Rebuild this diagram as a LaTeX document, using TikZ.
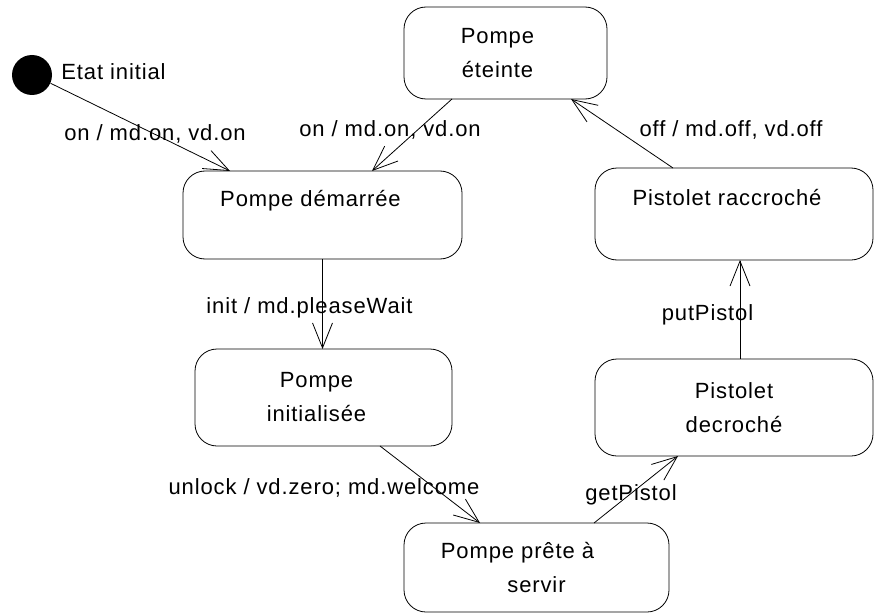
\documentclass[tikz,border=0pt]{standalone}
\usepackage{fontspec}
\setmainfont{Liberation Sans}[LetterSpace=4]
\usepackage{tikz}
\usetikzlibrary{arrows.meta}

\begin{document}
\begin{tikzpicture}[x=1pt,y=-1pt,line width=0.8pt]
	\tikzstyle{etat}=[draw, rounded corners=22pt, align=center, outer sep=0pt, inner sep=0pt, font=\fontsize{22}{34}\selectfont]
	\tikzstyle{trans}=[-{Straight Barb[length=25pt,width=20pt]}]
	\tikzstyle{etiquette}=[anchor=base, inner sep=0pt, font=\fontsize{22}{26}\selectfont]
	
	\useasboundingbox (0,0) rectangle (875,615);
	
	% etat initial
	\node[circle, fill, minimum size=40pt, inner sep=0pt] (ini) at (32,75) {};
	\node[etiquette, anchor=base west] (ininom) at (61,80) {Etat initial};
	
	% etats
	\node[etat, minimum width=203pt, minimum height=92pt] (eteinte) at (505.5,53) {Pompe\hspace*{16pt}\\éteinte\hspace*{16pt}};
	\node[etat, minimum width=279pt, minimum height=88pt] (demarree) at (322.5,215) {Pompe démarrée\hspace*{24pt}\\\mbox{}};
	\node[etat, minimum width=257pt, minimum height=97pt] (initialisee) at (323.5,397.5) {Pompe\hspace*{14pt}\\initialisée\hspace*{14pt}};
	\node[etat, minimum width=265pt, minimum height=89pt] (prete) at (536.5,567.5) {Pompe prête à\hspace*{38pt}\\servir};
	\node[etat, minimum width=278pt, minimum height=97pt] (decroche) at (734,407.5) {Pistolet\\decroché};
	\node[etat, minimum width=278pt, minimum height=92pt] (raccroche) at (734,214) {Pistolet raccroché\hspace*{14pt}\\\mbox{}};
	
	% transitions
	\draw[trans] (ini.-24) -- ([xshift=-92.5pt]demarree.north);
	\draw[trans] ([xshift=-53.5pt]eteinte.south) -- ([xshift=49.5pt]demarree.north);
	\draw[trans] (demarree.south) -- (demarree.south |- initialisee.north);
	\draw[trans] ([xshift=56.5pt]initialisee.south) -- ([xshift=-56.5pt]prete.north);
	\draw[trans] ([xshift=57.5pt]prete.north) -- ([xshift=-56pt]decroche.south);
	\draw[trans] ([xshift=6pt]decroche.north) -- ([xshift=6pt]raccroche.south);
	\draw[trans] ([xshift=-61pt]raccroche.north) -- ([xshift=65.5pt]eteinte.south);
	
	% textes des transitions
	\node[etiquette] (t1) at (155,141) {on / md.on, vd.on};
	\node[etiquette] (t2) at (390,137) {on / md.on, vd.on};
	\node[etiquette] (t3) at (309.5,313) {init / md.pleaseWait};
	\node[etiquette] (t4) at (324,494) {unlock / vd.zero; md.welcome};
	\node[etiquette] (t5) at (631,500) {getPistol};
	\node[etiquette] (t6) at (707.5,320) {putPistol};
	\node[etiquette] (t7) at (731,137) {off / md.off, vd.off};
\end{tikzpicture}
\end{document}
